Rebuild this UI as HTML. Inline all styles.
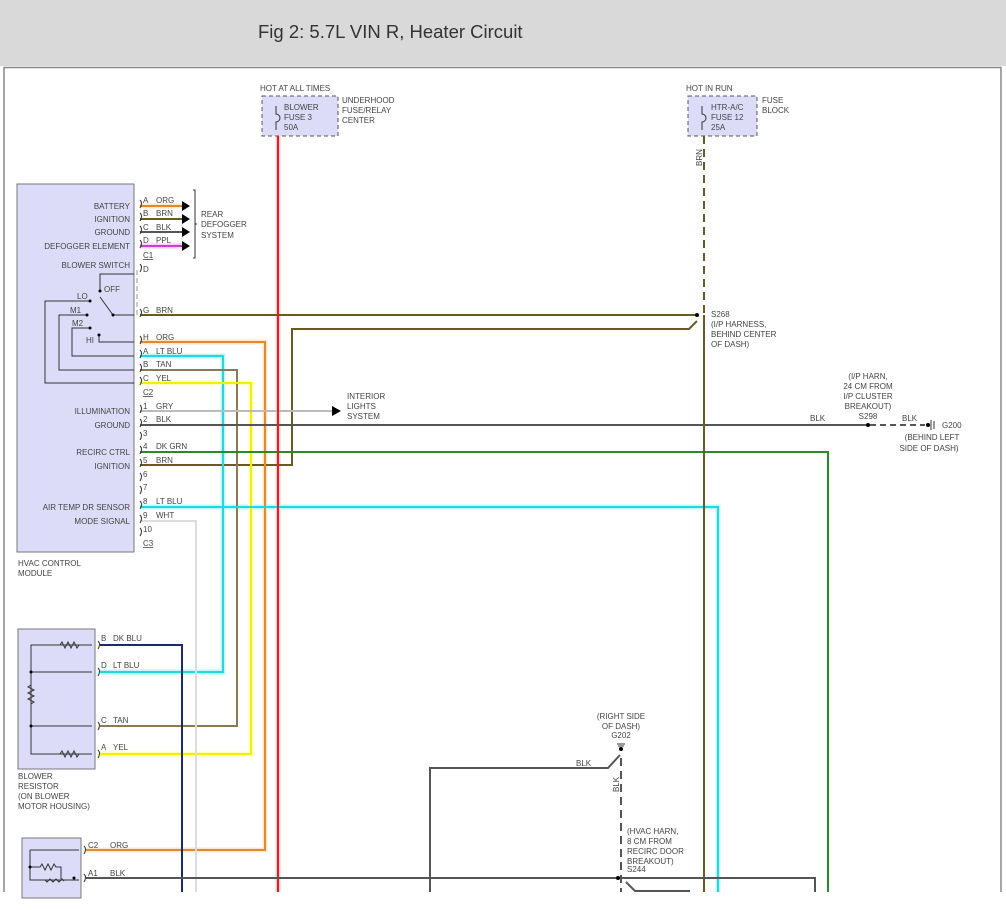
<!DOCTYPE html><html><head><style>body{margin:0;background:#fff}svg{display:block}text{font-family:"Liberation Sans",sans-serif;font-size:8px;fill:#444;white-space:pre}</style></head><body>
<svg width="1006" height="910" viewBox="0 0 1006 910" xml:space="preserve">
<rect x="0" y="0" width="1006" height="66" fill="#d9d9d9"/>
<text x="258" y="38" style="font-size:18.5px;fill:#333">Fig 2: 5.7L VIN R, Heater Circuit</text>
<path d="M4 892V67.5H1001V892" fill="none" stroke="#888" stroke-width="1.5"/>
<rect x="17" y="184" width="117" height="368" fill="#dcdcf8" stroke="#777"/>
<rect x="18" y="629" width="77" height="140" fill="#dcdcf8" stroke="#777"/>
<rect x="22" y="838" width="59" height="60" fill="#dcdcf8" stroke="#777"/>
<rect x="262" y="96" width="76" height="40" fill="#dcdcf8" stroke="#555" stroke-dasharray="4,3"/>
<rect x="688" y="96" width="69" height="40" fill="#dcdcf8" stroke="#555" stroke-dasharray="4,3"/>
<g fill="none" stroke-linejoin="miter">
<g stroke-width="5" opacity="0.25">
<path d="M140 206H182" stroke="#f0a040"/><path d="M140 342H265V850H86" stroke="#f0a040"/>
<path d="M140 356H223V672H100" stroke="#00e0e0"/><path d="M140 507H718V892" stroke="#00e0e0"/>
<path d="M140 383H251V754H100" stroke="#ffff00"/><path d="M140 246H182" stroke="#e040e0"/>
<path d="M278 136V892" stroke="#ff4040"/>
</g>
<path d="M140 206H182" stroke="#e08a30" stroke-width="2"/>
<path d="M140 219H182" stroke="#6b5a20" stroke-width="2"/>
<path d="M140 232H182" stroke="#555" stroke-width="2"/>
<path d="M140 246H182" stroke="#d040d0" stroke-width="2"/>
<path d="M140 315H697" stroke="#6b5a20" stroke-width="2"/>
<path d="M140 465H292V329H689L697 321" stroke="#6b5a20" stroke-width="2"/>
<path d="M140 342H265V850H86" stroke="#e08a30" stroke-width="2"/>
<path d="M140 356H223V672H100" stroke="#20d8e0" stroke-width="2"/>
<path d="M140 370H237V726H100" stroke="#8a7a55" stroke-width="2"/>
<path d="M140 383H251V754H100" stroke="#f0f000" stroke-width="2"/>
<path d="M140 411H332" stroke="#bbb" stroke-width="2"/>
<path d="M140 425H866" stroke="#555" stroke-width="2"/>
<path d="M870 425H925" stroke="#555" stroke-width="2" stroke-dasharray="6,4"/>
<path d="M140 452H828V892" stroke="#2a8a2a" stroke-width="2"/>
<path d="M140 507H718V892" stroke="#20d8e0" stroke-width="2"/>
<path d="M140 521H196V892" stroke="#ddd" stroke-width="2"/>
<path d="M100 645H182V892" stroke="#1a2a6a" stroke-width="2"/>
<path d="M278 136V892" stroke="#e02020" stroke-width="2"/>
<path d="M704 136V315" stroke="#6b5a20" stroke-width="2" stroke-dasharray="8,5"/>
<path d="M704 315V892" stroke="#6b5a20" stroke-width="2"/>
<path d="M86 878H815V892" stroke="#555" stroke-width="2"/>
<path d="M430 892V768H608L620 755" stroke="#555" stroke-width="2"/>
<path d="M621 758V892" stroke="#555" stroke-width="2" stroke-dasharray="8,5"/>
<path d="M626 882L635 891H690" stroke="#555" stroke-width="2"/>
<path d="M137 270V315" stroke="#ccc" stroke-width="2" stroke-dasharray="5,3"/>
<g stroke="#333" stroke-width="1">
<path d="M100 290V274H134M100 297L113 315H134M90 301H45V383H134M87 315H59V370H134M90 328H72V356H134M99 335V342H134"/>
<path d="M92 645H31V754H92M31 672H92M31 726H92"/>
<path d="M60 645l2-3 3 6 3-6 3 6 3-6 3 6 2-3M60 754l2-3 3 6 3-6 3 6 3-6 3 6 2-3M31 685l-3 2 6 3-6 3 6 3-6 3 6 3-3 2"/>
<path d="M30 850H79M30 850V880H79M30 867H40l2-3 3 6 3-6 3 6 3-6 2 3h5v12M45 880l2 2 3-3 3 3 3-3 3 3 3-3 2 2"/>
<path d="M276 106v8a3 3 0 0 1 0 8v8M702 106v8a3 3 0 0 1 0 8v8M193 190h2v68h-2M195 224l2 0"/>
</g>
<g stroke="#333" stroke-width="1">
<path d="M140 200q3 3 0 8M140 213q3 3 0 8M140 226q3 3 0 8M140 240q3 3 0 8M140 264q3 3 0 8M140 309q3 3 0 8M140 336q3 3 0 8M140 350q3 3 0 8M140 364q3 3 0 8M140 377q3 3 0 8M140 405q3 3 0 8M140 419q3 3 0 8M140 432q3 3 0 8M140 446q3 3 0 8M140 459q3 3 0 8M140 473q3 3 0 8M140 486q3 3 0 8M140 501q3 3 0 8M140 515q3 3 0 8M140 528q3 3 0 8M98 641q3 3 0 8M98 668q3 3 0 8M98 722q3 3 0 8M98 750q3 3 0 8M84 846q3 3 0 8M84 874q3 3 0 8"/>
</g>
</g>
<g fill="#000"><path d="M182 201l8 5-8 5zM182 214l8 5-8 5zM182 227l8 5-8 5zM182 241l8 5-8 5zM332 406l9 5-9 5z"/>
<circle cx="697" cy="315" r="2"/><circle cx="868" cy="425" r="2"/><circle cx="928" cy="425" r="2"/><circle cx="621" cy="749" r="2"/><circle cx="618" cy="878" r="2"/>
<circle cx="100" cy="291" r="1.5"/><circle cx="113" cy="315" r="1.5"/><circle cx="90" cy="301" r="1.5"/><circle cx="87" cy="315" r="1.5"/><circle cx="90" cy="328" r="1.5"/><circle cx="99" cy="335" r="1.5"/><circle cx="31" cy="672" r="1.5"/><circle cx="31" cy="726" r="1.5"/><circle cx="30" cy="867" r="1.5"/><circle cx="74" cy="878" r="1.5"/></g>
<path d="M931 420v10M934 421v8M617 744h8M618 746h6" stroke="#333"/>
<g text-anchor="end">
<text x="130" y="209">BATTERY</text><text x="130" y="222">IGNITION</text><text x="130" y="235">GROUND</text><text x="130" y="249">DEFOGGER ELEMENT</text><text x="130" y="268">BLOWER SWITCH</text>
<text x="130" y="414">ILLUMINATION</text><text x="130" y="428">GROUND</text><text x="130" y="455">RECIRC CTRL</text><text x="130" y="469">IGNITION</text><text x="130" y="510">AIR TEMP DR SENSOR</text><text x="130" y="524">MODE SIGNAL</text>
</g>
<text x="143" y="203">A</text><text x="156" y="203">ORG</text>
<text x="143" y="216">B</text><text x="156" y="216">BRN</text>
<text x="143" y="230">C</text><text x="156" y="230">BLK</text>
<text x="143" y="243">D</text><text x="156" y="243">PPL</text>
<text x="143" y="258" text-decoration="underline">C1</text>
<text x="143" y="272">D</text>
<text x="143" y="313">G</text><text x="156" y="313">BRN</text>
<text x="143" y="340">H</text><text x="156" y="340">ORG</text>
<text x="143" y="354">A</text><text x="156" y="354">LT BLU</text>
<text x="143" y="367">B</text><text x="156" y="367">TAN</text>
<text x="143" y="381">C</text><text x="156" y="381">YEL</text>
<text x="143" y="395" text-decoration="underline">C2</text>
<text x="143" y="409">1</text><text x="156" y="409">GRY</text>
<text x="143" y="422">2</text><text x="156" y="422">BLK</text>
<text x="143" y="436">3</text>
<text x="143" y="449">4</text><text x="156" y="449">DK GRN</text>
<text x="143" y="463">5</text><text x="156" y="463">BRN</text>
<text x="143" y="477">6</text><text x="143" y="490">7</text>
<text x="143" y="504">8</text><text x="156" y="504">LT BLU</text>
<text x="143" y="518">9</text><text x="156" y="518">WHT</text>
<text x="143" y="532">10</text><text x="143" y="546" text-decoration="underline">C3</text>
<text x="201" y="217">REAR</text><text x="201" y="227">DEFOGGER</text><text x="201" y="238">SYSTEM</text>
<text x="104" y="292">OFF</text><text x="77" y="299">LO</text><text x="70" y="313">M1</text><text x="72" y="326">M2</text><text x="86" y="343">HI</text>
<text x="18" y="566">HVAC CONTROL</text><text x="18" y="576">MODULE</text>
<text x="260" y="91">HOT AT ALL TIMES</text><text x="284" y="110">BLOWER</text><text x="284" y="120">FUSE 3</text><text x="284" y="130">50A</text>
<text x="342" y="103">UNDERHOOD</text><text x="342" y="113">FUSE/RELAY</text><text x="342" y="123">CENTER</text>
<text x="686" y="91">HOT IN RUN</text><text x="711" y="110">HTR-A/C</text><text x="711" y="120">FUSE 12</text><text x="711" y="130">25A</text>
<text x="762" y="103">FUSE</text><text x="762" y="113">BLOCK</text>
<text transform="translate(702,166) rotate(-90)">BRN</text>
<text x="711" y="317">S268</text><text x="711" y="327">(I/P HARNESS,</text><text x="711" y="337">BEHIND CENTER</text><text x="711" y="347">OF DASH)</text>
<text x="347" y="399">INTERIOR</text><text x="347" y="409">LIGHTS</text><text x="347" y="419">SYSTEM</text>
<g text-anchor="middle"><text x="868" y="379">(I/P HARN,</text><text x="868" y="389">24 CM FROM</text><text x="868" y="399">I/P CLUSTER</text><text x="868" y="409">BREAKOUT)</text><text x="868" y="419">S298</text>
<text x="932" y="440">(BEHIND LEFT</text><text x="929" y="451">SIDE OF DASH)</text>
<text x="621" y="719">(RIGHT SIDE</text><text x="621" y="729">OF DASH)</text><text x="621" y="738">G202</text></g>
<text x="810" y="421">BLK</text><text x="902" y="421">BLK</text><text x="942" y="428">G200</text>
<text x="576" y="766">BLK</text><text transform="translate(619,792) rotate(-90)">BLK</text>
<text x="627" y="834">(HVAC HARN,</text><text x="627" y="844">8 CM FROM</text><text x="627" y="854">RECIRC DOOR</text><text x="627" y="864">BREAKOUT)</text><text x="627" y="872">S244</text>
<text x="101" y="641">B</text><text x="113" y="641">DK BLU</text>
<text x="101" y="668">D</text><text x="113" y="668">LT BLU</text>
<text x="101" y="723">C</text><text x="113" y="723">TAN</text>
<text x="101" y="750">A</text><text x="113" y="750">YEL</text>
<text x="18" y="779">BLOWER</text><text x="18" y="789">RESISTOR</text><text x="18" y="799">(ON BLOWER</text><text x="18" y="809">MOTOR HOUSING)</text>
<text x="88" y="848">C2</text><text x="110" y="848">ORG</text><text x="88" y="876">A1</text><text x="110" y="876">BLK</text>
</svg></body></html>
